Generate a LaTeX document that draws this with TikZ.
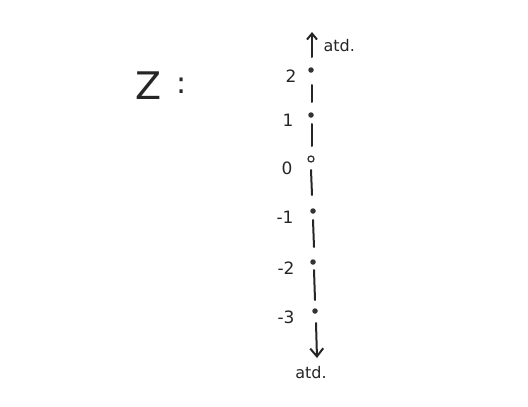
\documentclass[tikz,border=0pt]{standalone}
\usepackage{fontspec}
\setmainfont{DejaVu Sans}
\usetikzlibrary{arrows.meta}
\begin{document}
\begin{tikzpicture}[x=1pt,y=-1pt,
  pen/.style={line width=2pt,draw=black!85,line cap=round},
  dotpt/.style={circle,fill=black!80,inner sep=0pt,minimum size=5.5pt},
  opendot/.style={circle,draw=black!80,line width=1.3pt,inner sep=0pt,minimum size=6pt},
  lab/.style={font=\fontsize{17}{17}\selectfont,text=black!85,anchor=east},
  note/.style={font=\fontsize{16}{16}\selectfont,text=black!85}]
\useasboundingbox[fill=white] (0,0) rectangle (528,407);
% points
\node[dotpt] (p2) at (311,70) {};
\node[dotpt] (p1) at (311,115) {};
\node[opendot] (p0) at (311,159) {};
\node[dotpt] (m1) at (313,211) {};
\node[dotpt] (m2) at (313,262) {};
\node[dotpt] (m3) at (315,311) {};
% labels
\node[lab] (l2) at (300,76) {2};
\node[lab] (l1) at (297,120) {1};
\node[lab] (l0) at (296,168) {0};
\node[lab] (lm1) at (297,217) {-1};
\node[lab] (lm2) at (298,268) {-2};
\node[lab] (lm3) at (298,317) {-3};
% segments
\coordinate (s1a) at (312,85); \coordinate (s1b) at (312,102);
\coordinate (s2a) at (312,124); \coordinate (s2b) at (312,146);
\coordinate (s3a) at (311,170); \coordinate (s3b) at (312,195);
\coordinate (s4a) at (313,220); \coordinate (s4b) at (314,247);
\coordinate (s5a) at (314,270); \coordinate (s5b) at (315,300);
\draw[pen] (s1a) -- (s1b);
\draw[pen] (s2a) -- (s2b);
\draw[pen] (s3a) -- (s3b);
\draw[pen] (s4a) -- (s4b);
\draw[pen] (s5a) -- (s5b);
% arrows
\coordinate (ta) at (312,57); \coordinate (tb) at (312,32);
\coordinate (ba) at (316,323); \coordinate (bb) at (317,358);
\draw[pen,-{Straight Barb[length=6pt,width=10pt]}] (ta) -- (tb);
\draw[pen,-{Straight Barb[length=8pt,width=13pt]}] (ba) -- (bb);
\node[note,anchor=west] (atdtop) at (320,46) {atd.};
\node[note] (atdbot) at (311,373) {atd.};
% Z:
\node[font=\fontsize{38}{38}\selectfont,text=black!85] (Z) at (149,86) {Z};
\node[font=\fontsize{30}{30}\selectfont,text=black!85] (colon) at (182,86) {:};
\end{tikzpicture}
\end{document}
